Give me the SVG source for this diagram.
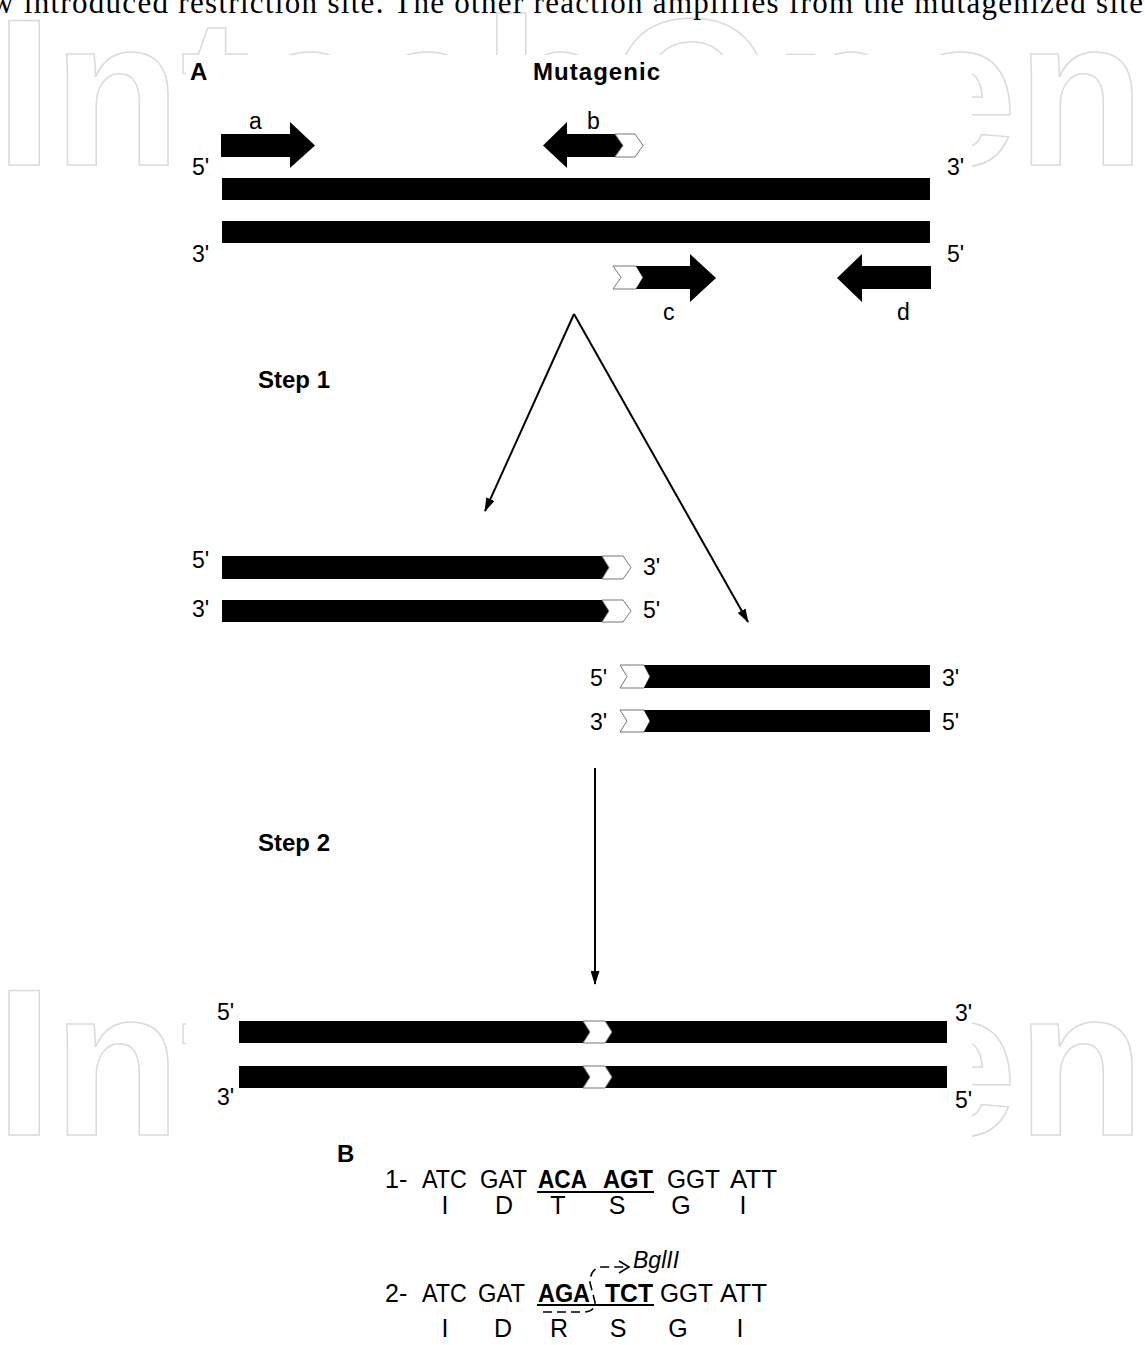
<svg xmlns="http://www.w3.org/2000/svg" width="1145" height="1345" viewBox="0 0 1145 1345">
<style>
  .wm{font-family:"Liberation Sans",Arial,sans-serif;font-size:210px;font-weight:bold;fill:none;stroke:#dadada;stroke-width:1.5}
  .lbl{font-family:"Liberation Sans",Arial,sans-serif;font-size:23px;fill:#000}
  .bold{font-family:"Liberation Sans",Arial,sans-serif;font-weight:bold;fill:#000}
  .seq{font-family:"Liberation Sans",Arial,sans-serif;font-size:25px;fill:#000}
  .seqb{font-family:"Liberation Sans",Arial,sans-serif;font-size:25px;font-weight:bold;fill:#000}
  .bar{fill:#000}
  .chev{fill:#fff;stroke:#777;stroke-width:1}
  .conn{stroke:#000;stroke-width:2;fill:none}
</style>
<defs>
  <marker id="ah" viewBox="0 0 14 9" refX="13" refY="4.5" markerWidth="14" markerHeight="9" orient="auto" markerUnits="userSpaceOnUse">
    <path d="M0,0 L14,4.5 L0,9 z" fill="#000"/>
  </marker>
</defs>
<rect width="1145" height="1345" fill="#fff"/>

<g id="watermark">
  <text class="wm" x="-5" y="165" textLength="1150">IntechOpen</text>
  <text class="wm" x="-5" y="1135" textLength="1150">IntechOpen</text>
</g>
<rect x="186" y="55" width="786" height="1290" fill="#fff"/>

<text x="-9" y="13" textLength="1152" style="font-family:'Liberation Serif','Times New Roman',serif;font-size:31px;fill:#000">w introduced restriction site. The other reaction amplifies from the mutagenized site</text>

<g id="panelA-title">
  <text class="bold" x="190" y="80" style="font-size:24px">A</text>
  <text class="bold" x="533" y="80" style="font-size:24px" textLength="127">Mutagenic</text>
</g>

<g id="template">
  <rect class="bar" x="222" y="178" width="708" height="22"/>
  <rect class="bar" x="222" y="221" width="708" height="22"/>
  <text class="lbl" x="192" y="175">5'</text>
  <text class="lbl" x="947" y="175">3'</text>
  <text class="lbl" x="192" y="262">3'</text>
  <text class="lbl" x="947" y="262">5'</text>
</g>

<g id="primer-a">
  <polygon class="bar" points="221,134 290,134 290,122 315,145.5 290,168 290,157 221,157"/>
  <text class="lbl" x="249" y="129">a</text>
</g>
<g id="primer-b">
  <polygon class="bar" points="543,145.5 567,122 567,134 615,134 623,145.5 615,157 567,157 567,168"/>
  <polygon class="chev" points="615,134 635,134 643,145.5 635,157 615,157 623,145.5"/>
  <text class="lbl" x="587" y="129">b</text>
</g>
<g id="primer-c">
  <polygon class="chev" points="613,266 636,266 643,277.5 636,289 613,289 621,277.5"/>
  <polygon class="bar" points="636,266 690,266 690,254 716,278 690,302 690,289 636,289 643,277.5"/>
  <text class="lbl" x="663" y="320">c</text>
</g>
<g id="primer-d">
  <polygon class="bar" points="837,278 862,254 862,266 931,266 931,289 862,289 862,302"/>
  <text class="lbl" x="897" y="320">d</text>
</g>

<g id="step1-label"><text class="bold" x="258" y="388" style="font-size:24px">Step 1</text></g>

<g id="product-ab">
  <polygon class="bar" points="222,556 602,556 609,567.5 602,579 222,579"/>
  <polygon class="chev" points="602,556 623,556 631,567.5 623,579 602,579 609,567.5"/>
  <polygon class="bar" points="222,600 602,600 609,611 602,622 222,622"/>
  <polygon class="chev" points="602,600 623,600 631,611 623,622 602,622 609,611"/>
  <text class="lbl" x="192" y="568">5'</text>
  <text class="lbl" x="643" y="575">3'</text>
  <text class="lbl" x="192" y="617">3'</text>
  <text class="lbl" x="643" y="618">5'</text>
</g>

<g id="product-cd">
  <polygon class="chev" points="620,665 644,665 650,676.5 644,688 620,688 627,676.5"/>
  <polygon class="bar" points="644,665 930,665 930,688 644,688 650,676.5"/>
  <polygon class="chev" points="620,710 644,710 650,721 644,732 620,732 627,721"/>
  <polygon class="bar" points="644,710 930,710 930,732 644,732 650,721"/>
  <text class="lbl" x="590" y="686">5'</text>
  <text class="lbl" x="942" y="686">3'</text>
  <text class="lbl" x="590" y="730">3'</text>
  <text class="lbl" x="942" y="730">5'</text>
</g>

<g id="step2-label"><text class="bold" x="258" y="851" style="font-size:24px">Step 2</text></g>

<g id="final-product">
  <rect class="bar" x="239" y="1021" width="708" height="22"/>
  <polygon class="chev" points="583,1021 605,1021 612,1032 605,1043 583,1043 590,1032"/>
  <rect class="bar" x="239" y="1066" width="708" height="22"/>
  <polygon class="chev" points="583,1066 605,1066 612,1077 605,1088 583,1088 590,1077"/>
  <text class="lbl" x="217" y="1020">5'</text>
  <text class="lbl" x="955" y="1021">3'</text>
  <text class="lbl" x="217" y="1105">3'</text>
  <text class="lbl" x="955" y="1108">5'</text>
</g>

<g id="connectors">
  <line class="conn" x1="574" y1="314" x2="485" y2="511" marker-end="url(#ah)"/>
  <line class="conn" x1="574" y1="314" x2="748" y2="622" marker-end="url(#ah)"/>
  <line class="conn" x1="595" y1="768" x2="595" y2="984" marker-end="url(#ah)"/>
</g>

<g id="panelB">
  <text class="bold" x="337" y="1162" style="font-size:24px">B</text>
  <g id="seq1">
    <text class="seq" x="385" y="1188">1-</text>
    <text class="seq" x="422" y="1188" textLength="45" lengthAdjust="spacingAndGlyphs">ATC</text>
    <text class="seq" x="480" y="1188" textLength="47" lengthAdjust="spacingAndGlyphs">GAT</text>
    <text class="seqb" x="538" y="1188" textLength="49" lengthAdjust="spacingAndGlyphs">ACA</text>
    <text class="seqb" x="603" y="1188" textLength="50" lengthAdjust="spacingAndGlyphs">AGT</text>
    <text class="seq" x="667" y="1188" textLength="53" lengthAdjust="spacingAndGlyphs">GGT</text>
    <text class="seq" x="730" y="1188" textLength="47" lengthAdjust="spacingAndGlyphs">ATT</text>
    <line x1="537" y1="1192" x2="654" y2="1192" stroke="#000" stroke-width="2"/>
    <g class="seq" text-anchor="middle">
      <text x="445" y="1214">I</text>
      <text x="504" y="1214">D</text>
      <text x="558" y="1214">T</text>
      <text x="617" y="1214">S</text>
      <text x="681" y="1214">G</text>
      <text x="743" y="1214">I</text>
    </g>
  </g>
  <g id="seq2">
    <text class="seq" x="385" y="1302">2-</text>
    <text class="seq" x="422" y="1302" textLength="45" lengthAdjust="spacingAndGlyphs">ATC</text>
    <text class="seq" x="478" y="1302" textLength="47" lengthAdjust="spacingAndGlyphs">GAT</text>
    <text class="seqb" x="538" y="1302" textLength="52" lengthAdjust="spacingAndGlyphs">AGA</text>
    <text class="seqb" x="605" y="1302" textLength="48" lengthAdjust="spacingAndGlyphs">TCT</text>
    <text class="seq" x="660" y="1302" textLength="53" lengthAdjust="spacingAndGlyphs">GGT</text>
    <text class="seq" x="720" y="1302" textLength="47" lengthAdjust="spacingAndGlyphs">ATT</text>
    <line x1="537" y1="1305" x2="654" y2="1305" stroke="#000" stroke-width="2"/>
    <path d="M543,1312 L583,1312 Q595,1312 595,1302 L590,1283 Q590,1268 602,1267 L628,1267" fill="none" stroke="#000" stroke-width="1.6" stroke-dasharray="9,5"/>
    <polyline points="619,1261 629,1267 619,1273" fill="none" stroke="#000" stroke-width="1.6"/>
    <text x="633" y="1268" style="font-family:'Liberation Sans',Arial,sans-serif;font-size:23px;font-style:italic;fill:#000">BglII</text>
    <g class="seq" text-anchor="middle">
      <text x="445" y="1337">I</text>
      <text x="503" y="1337">D</text>
      <text x="559" y="1337">R</text>
      <text x="618" y="1337">S</text>
      <text x="678" y="1337">G</text>
      <text x="740" y="1337">I</text>
    </g>
  </g>
</g>
</svg>
